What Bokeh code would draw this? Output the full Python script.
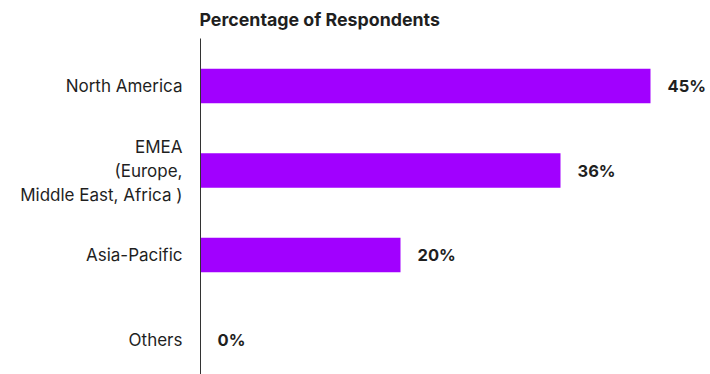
from bokeh.plotting import figure
from bokeh.models import Range1d, FixedTicker, ColumnDataSource
from bokeh.core.properties import value
from bokeh.embed import file_html
from bokeh.resources import INLINE

# Data
regions = ["North America", "EMEA\n(Europe,\nMiddle East, Africa )", "Asia-Pacific", "Others"]
percentages = [45, 36, 20, 0]
value_labels = ["45%", "36%", "20%", "0%"]
title_text = "Percentage of Respondents"

FONT = "Inter"
TEXT_COLOR = "#1f1f1f"
BAR_COLOR = "#A100FF"

positions = list(range(len(regions)))

src = ColumnDataSource(dict(y=positions, v=percentages, lab=value_labels))

p = figure(width=710, height=374, output_backend="svg", toolbar_location=None,
           x_range=Range1d(0, 51), y_range=Range1d(3.414, -0.562),
           min_border_left=200, min_border_right=0, min_border_top=38,
           min_border_bottom=0, title=title_text)

p.title.text_font = FONT
p.title.text_font_size = "17.8px"
p.title.text_font_style = "bold"
p.title.text_color = TEXT_COLOR
p.title.offset = -1
p.title.vertical_align = "top"
p.title.standoff = 13

p.hbar(y="y", right="v", left=0, height=0.408, source=src,
       fill_color=BAR_COLOR, line_color=None)
p.text(x="v", y="y", text="lab", source=src, x_offset=17,
       text_baseline="middle", text_align="left",
       text_font=value(FONT), text_font_size="16.5px", text_font_style="bold",
       text_color=TEXT_COLOR)

p.xaxis.visible = False
p.yaxis.ticker = FixedTicker(ticks=positions)
p.yaxis.major_label_overrides = {i: r for i, r in zip(positions, regions)}
p.yaxis.major_tick_line_color = None
p.yaxis.minor_tick_line_color = None
p.yaxis.axis_line_color = "#333333"
p.yaxis.axis_line_width = 1
p.yaxis.major_label_standoff = 12
p.yaxis.major_label_text_font = FONT
p.yaxis.major_label_text_font_size = "17px"
p.yaxis.major_label_text_color = TEXT_COLOR
p.yaxis.major_label_text_align = "right"

p.xgrid.visible = False
p.ygrid.visible = False
p.outline_line_color = None
p.background_fill_color = "white"
p.border_fill_color = "white"

open("out.html", "w").write(file_html(p, INLINE))
